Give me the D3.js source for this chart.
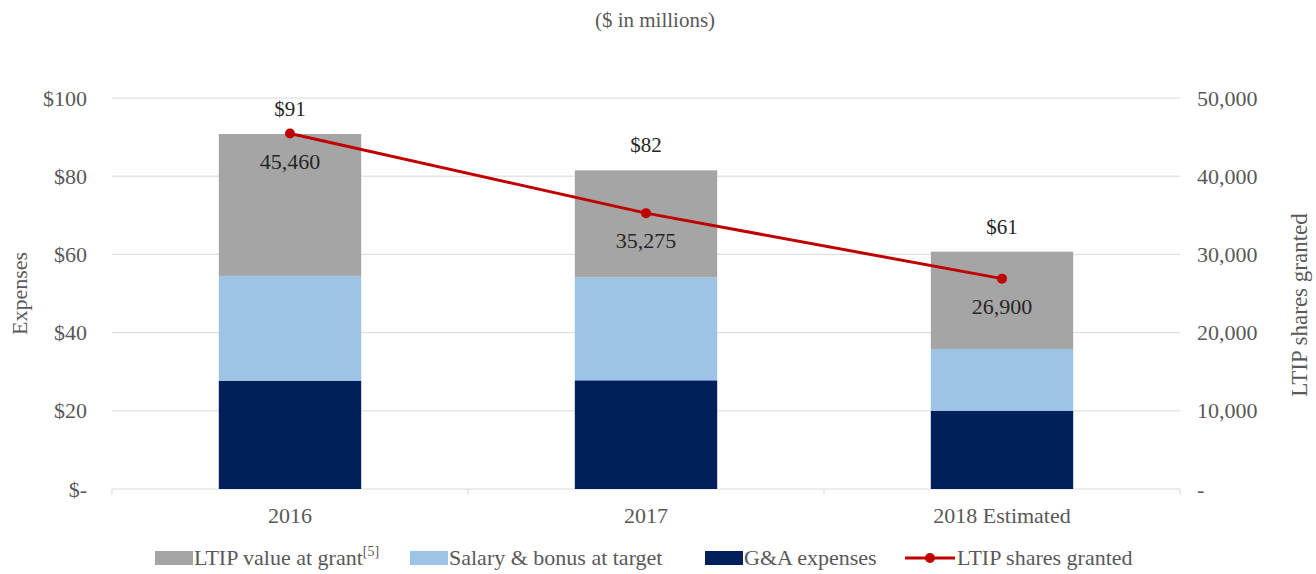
<!DOCTYPE html>
<html>
<head>
<meta charset="utf-8">
<script src="https://cdn.jsdelivr.net/npm/d3@7"></script>
<style>
  body { margin: 0; background: #fff; }
  text { font-family: "Liberation Serif", "DejaVu Serif", serif; }
</style>
</head>
<body>
<div id="chart"></div>
<script>
// data
const years = ["2016", "2017", "2018 Estimated"];
const gaExpenses = [27.7, 27.8, 20.0];
const salaryBonus = [26.8, 26.3, 15.8];
const ltipValue = [36.3, 27.4, 24.9];
const totalLabels = ["$91", "$82", "$61"];
const sharesGranted = [45460, 35275, 26900];
const leftTicks = [0, 20, 40, 60, 80, 100];
const rightTicks = [0, 10000, 20000, 30000, 40000, 50000];

const W = 1316, H = 574;
const margin = {top: 98, right: 136, bottom: 85, left: 112};
const width = W - margin.left - margin.right;
const height = H - margin.top - margin.bottom;
const fs = 22;

const svg = d3.select("#chart").append("svg")
    .attr("width", W)
    .attr("height", H);

const g = svg.append("g")
    .attr("transform", "translate(" + margin.left + "," + margin.top + ")");

let x = d3.scaleBand().domain(years).range([0, width]).padding(0);
let yL = d3.scaleLinear().domain([0, 100]).range([height, 0]);
let yR = d3.scaleLinear().domain([0, 50000]).range([height, 0]);

const barW = x.bandwidth() * 0.4;
const cx = (d) => x(d) + x.bandwidth() / 2;

// gridlines
g.append("g")
  .selectAll("line")
  .data(leftTicks)
  .join("line")
    .attr("x1", 0).attr("x2", width)
    .attr("y1", d => yL(d)).attr("y2", d => yL(d))
    .attr("stroke", "#d9d9d9").attr("stroke-width", 1);

// category tick marks under the axis
g.append("g")
  .selectAll("line")
  .data(d3.range(years.length + 1))
  .join("line")
    .attr("x1", i => i * x.step()).attr("x2", i => i * x.step())
    .attr("y1", height).attr("y2", height + 6)
    .attr("stroke", "#d9d9d9");

// left axis
const leftAxis = g.append("g")
    .call(d3.axisLeft(yL).tickValues(leftTicks).tickSize(0).tickPadding(25)
      .tickFormat(d => d === 0 ? "$-" : "$" + d));
leftAxis.select(".domain").remove();
leftAxis.selectAll("text").attr("font-size", fs).attr("fill", "#595959")
    .attr("font-family", "Liberation Serif");

// right axis
const rightAxis = g.append("g")
    .attr("transform", "translate(" + width + ",0)")
    .call(d3.axisRight(yR).tickValues(rightTicks).tickSize(0).tickPadding(17)
      .tickFormat(d => d === 0 ? "-" : d3.format(",")(d)));
rightAxis.select(".domain").remove();
rightAxis.selectAll("text").attr("font-size", fs).attr("fill", "#595959")
    .attr("font-family", "Liberation Serif");

// bottom axis labels
const bottomAxis = g.append("g")
    .attr("transform", "translate(0," + height + ")")
    .call(d3.axisBottom(x).tickSize(0).tickPadding(18));
bottomAxis.select(".domain").remove();
bottomAxis.selectAll("text").attr("font-size", fs).attr("fill", "#595959")
    .attr("font-family", "Liberation Serif");

// stacked bars
const series = [
  {name: "G&A expenses", values: gaExpenses, color: "#001f5b"},
  {name: "Salary & bonus at target", values: salaryBonus, color: "#9dc3e6"},
  {name: "LTIP value at grant", values: ltipValue, color: "#a5a5a5"}
];
let base = years.map(() => 0);
series.forEach(s => {
  const rows = years.map((yr, i) => ({yr: yr, y0: base[i], y1: base[i] + s.values[i]}));
  g.append("g")
    .selectAll("rect")
    .data(rows)
    .join("rect")
      .attr("x", d => cx(d.yr) - barW / 2)
      .attr("width", barW)
      .attr("y", d => yL(d.y1))
      .attr("height", d => yL(d.y0) - yL(d.y1))
      .attr("fill", s.color);
  base = rows.map(d => d.y1);
});

// total labels
g.append("g")
  .selectAll("text")
  .data(years)
  .join("text")
    .attr("x", d => cx(d))
    .attr("y", (d, i) => yL(base[i]) - 18)
    .attr("text-anchor", "middle")
    .attr("font-size", 21)
    .attr("fill", "#262626")
    .text((d, i) => totalLabels[i]);

// line for shares granted
let line = d3.line()
    .x(d => cx(d.yr))
    .y(d => yR(d.v));
const lineData = years.map((yr, i) => ({yr: yr, v: sharesGranted[i]}));

g.append("path")
    .datum(lineData)
    .attr("fill", "none")
    .attr("stroke", "#c00000")
    .attr("stroke-width", 3)
    .attr("d", line);

g.append("g")
  .selectAll("circle")
  .data(lineData)
  .join("circle")
    .attr("cx", d => cx(d.yr))
    .attr("cy", d => yR(d.v))
    .attr("r", 5)
    .attr("fill", "#c00000");

g.append("g")
  .selectAll("text")
  .data(lineData)
  .join("text")
    .attr("x", d => cx(d.yr))
    .attr("y", d => yR(d.v) + 35)
    .attr("text-anchor", "middle")
    .attr("font-size", 22)
    .attr("fill", "#262626")
    .text(d => d3.format(",")(d.v));

// titles
svg.append("text")
    .attr("x", 655).attr("y", 27)
    .attr("text-anchor", "middle")
    .attr("font-size", 21)
    .attr("fill", "#595959")
    .text("($ in millions)");

svg.append("text")
    .attr("transform", "translate(27," + (margin.top + height / 2) + ") rotate(-90)")
    .attr("text-anchor", "middle")
    .attr("font-size", fs)
    .attr("fill", "#595959")
    .text("Expenses");

svg.append("text")
    .attr("transform", "translate(1307,305) rotate(-90)")
    .attr("text-anchor", "middle")
    .attr("font-size", 23)
    .attr("fill", "#595959")
    .text("LTIP shares granted");

// legend
const legY = 558;
const legend = svg.append("g");
const legItems = [
  {label: "LTIP value at grant", sup: "[5]", color: "#a5a5a5", x: 155},
  {label: "Salary & bonus at target", color: "#9dc3e6", x: 410},
  {label: "G&A expenses", color: "#001f5b", x: 705}
];
legItems.forEach(it => {
  legend.append("rect")
    .attr("x", it.x).attr("y", legY - 7)
    .attr("width", 38).attr("height", 14)
    .attr("fill", it.color);
  const t = legend.append("text")
    .attr("x", it.x + 39).attr("y", legY + 7)
    .attr("font-size", fs)
    .attr("fill", "#595959")
    .text(it.label);
  if (it.sup) {
    t.append("tspan").attr("font-size", 14).attr("dy", -9).text(it.sup);
  }
});
legend.append("line")
    .attr("x1", 905).attr("x2", 955)
    .attr("y1", legY).attr("y2", legY)
    .attr("stroke", "#c00000").attr("stroke-width", 3);
legend.append("circle")
    .attr("cx", 930).attr("cy", legY).attr("r", 5)
    .attr("fill", "#c00000");
legend.append("text")
    .attr("x", 957).attr("y", legY + 7)
    .attr("font-size", fs)
    .attr("fill", "#595959")
    .text("LTIP shares granted");
</script>
</body>
</html>
